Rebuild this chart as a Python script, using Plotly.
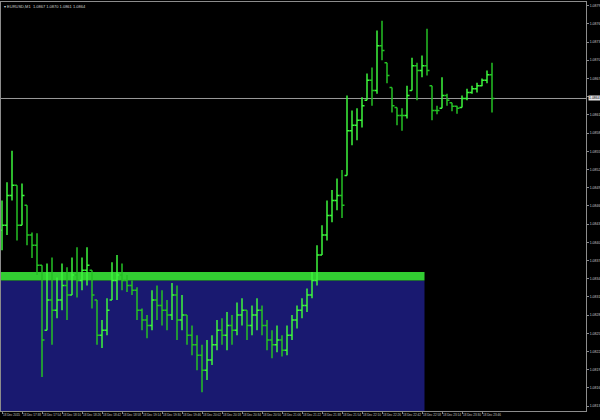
import plotly.graph_objects as go
import pandas as pd

chart_title = "EURUSD,M1  1.0867 1.0870 1.0861 1.0864"
bar_start = "2015-12-18 17:22"
bar_freq = "4min"

open_ = [1.08420, 1.08428, 1.08477, 1.08494, 1.08428, 1.08461, 1.08412, 1.08395, 1.08362, 1.08255,
         1.08305, 1.08288, 1.08305, 1.08329, 1.08313, 1.08346, 1.08337, 1.08354, 1.08354, 1.08305,
         1.08247, 1.08255, 1.08305, 1.08337, 1.08346, 1.08337, 1.08329, 1.08321, 1.08288, 1.08272,
         1.08263, 1.08305, 1.08296, 1.08288, 1.08280, 1.08313, 1.08272, 1.08280, 1.08247, 1.08231,
         1.08214, 1.08189, 1.08206, 1.08231, 1.08255, 1.08247, 1.08263, 1.08255, 1.08280, 1.08288,
         1.08263, 1.08280, 1.08288, 1.08263, 1.08239, 1.08231, 1.08239, 1.08222, 1.08247, 1.08272,
         1.08288, 1.08296, 1.08313, 1.08337, 1.08379, 1.08412, 1.08444, 1.08469, 1.08477, 1.08510,
         1.08584, 1.08593, 1.08601, 1.08634, 1.08667, 1.08650, 1.08724, 1.08696, 1.08655, 1.08622,
         1.08609, 1.08609, 1.08650, 1.08691, 1.08683, 1.08691, 1.08658, 1.08617, 1.08621, 1.08642,
         1.08630, 1.08624, 1.08622, 1.08637, 1.08647, 1.08653, 1.08658, 1.08667, 1.08676]
high = [1.08469, 1.08499, 1.08551, 1.08494, 1.08497, 1.08461, 1.08416, 1.08415, 1.08362, 1.08365,
        1.08375, 1.08342, 1.08365, 1.08359, 1.08375, 1.08392, 1.08375, 1.08392, 1.08354, 1.08305,
        1.08272, 1.08308, 1.08367, 1.08379, 1.08365, 1.08346, 1.08337, 1.08326, 1.08291, 1.08280,
        1.08321, 1.08329, 1.08321, 1.08305, 1.08333, 1.08329, 1.08313, 1.08280, 1.08263, 1.08247,
        1.08231, 1.08239, 1.08247, 1.08272, 1.08275, 1.08285, 1.08280, 1.08301, 1.08308, 1.08288,
        1.08296, 1.08308, 1.08296, 1.08272, 1.08255, 1.08263, 1.08247, 1.08263, 1.08280, 1.08296,
        1.08308, 1.08324, 1.08351, 1.08395, 1.08428, 1.08469, 1.08486, 1.08505, 1.08519, 1.08642,
        1.08617, 1.08621, 1.08639, 1.08678, 1.08688, 1.08749, 1.08765, 1.08696, 1.08655, 1.08622,
        1.08621, 1.08658, 1.08704, 1.08696, 1.08708, 1.08752, 1.08658, 1.08625, 1.08672, 1.08645,
        1.08630, 1.08625, 1.08642, 1.08653, 1.08658, 1.08663, 1.08670, 1.08683, 1.08696]
low = [1.08387, 1.08412, 1.08469, 1.08403, 1.08428, 1.08395, 1.08374, 1.08346, 1.08178, 1.08255,
       1.08231, 1.08275, 1.08288, 1.08272, 1.08313, 1.08309, 1.08321, 1.08329, 1.08291, 1.08231,
       1.08226, 1.08247, 1.08305, 1.08305, 1.08321, 1.08318, 1.08313, 1.08272, 1.08255, 1.08242,
       1.08255, 1.08272, 1.08263, 1.08255, 1.08272, 1.08239, 1.08255, 1.08231, 1.08214, 1.08189,
       1.08153, 1.08173, 1.08198, 1.08222, 1.08231, 1.08222, 1.08231, 1.08247, 1.08263, 1.08239,
       1.08247, 1.08255, 1.08247, 1.08222, 1.08209, 1.08219, 1.08212, 1.08214, 1.08239, 1.08258,
       1.08275, 1.08285, 1.08308, 1.08329, 1.08379, 1.08403, 1.08433, 1.08453, 1.08440, 1.08510,
       1.08560, 1.08568, 1.08589, 1.08634, 1.08625, 1.08645, 1.08700, 1.08662, 1.08614, 1.08593,
       1.08584, 1.08604, 1.08650, 1.08634, 1.08672, 1.08675, 1.08601, 1.08611, 1.08621, 1.08625,
       1.08616, 1.08612, 1.08622, 1.08634, 1.08645, 1.08647, 1.08657, 1.08662, 1.08614]
close = [1.08428, 1.08477, 1.08494, 1.08428, 1.08477, 1.08412, 1.08395, 1.08362, 1.08239, 1.08305,
         1.08288, 1.08305, 1.08329, 1.08313, 1.08346, 1.08337, 1.08354, 1.08362, 1.08313, 1.08247,
         1.08255, 1.08288, 1.08337, 1.08346, 1.08337, 1.08329, 1.08321, 1.08288, 1.08272, 1.08263,
         1.08305, 1.08296, 1.08288, 1.08280, 1.08313, 1.08272, 1.08280, 1.08247, 1.08231, 1.08214,
         1.08189, 1.08206, 1.08231, 1.08255, 1.08247, 1.08263, 1.08255, 1.08280, 1.08288, 1.08263,
         1.08280, 1.08288, 1.08263, 1.08239, 1.08231, 1.08239, 1.08222, 1.08247, 1.08272, 1.08288,
         1.08296, 1.08313, 1.08337, 1.08379, 1.08412, 1.08444, 1.08469, 1.08477, 1.08461, 1.08584,
         1.08593, 1.08601, 1.08625, 1.08667, 1.08650, 1.08724, 1.08716, 1.08675, 1.08625, 1.08609,
         1.08609, 1.08642, 1.08691, 1.08683, 1.08691, 1.08683, 1.08617, 1.08617, 1.08642, 1.08634,
         1.08624, 1.08621, 1.08637, 1.08647, 1.08653, 1.08658, 1.08667, 1.08676, 1.08637]

price_ticks = [1.0879, 1.0876, 1.0873, 1.0870, 1.0867, 1.0864, 1.0861, 1.0858, 1.0855, 1.0852,
               1.0849, 1.0846, 1.0843, 1.0840, 1.0837, 1.0834, 1.0831, 1.0828, 1.0825, 1.0822,
               1.0819, 1.0816, 1.0813]
# the tick at the current price is hidden under the bid label in the reference
price_tick_labels = ["1.0879", "1.0876", "1.0873", "1.0870", "1.0867", "", "1.0861", "1.0858",
                     "1.0855", "1.0852", "1.0849", "1.0846", "1.0843", "1.0840", "1.0837",
                     "1.0834", "1.0831", "1.0828", "1.0825", "1.0822", "1.0819", "1.0816",
                     "1.0813"]

time_ticks = ["2015-12-18 17:22", "2015-12-18 17:38", "2015-12-18 17:54", "2015-12-18 18:10",
              "2015-12-18 18:26", "2015-12-18 18:42", "2015-12-18 18:58", "2015-12-18 19:14",
              "2015-12-18 19:30", "2015-12-18 19:46", "2015-12-18 20:02", "2015-12-18 20:18",
              "2015-12-18 20:34", "2015-12-18 20:50", "2015-12-18 21:06", "2015-12-18 21:22",
              "2015-12-18 21:38", "2015-12-18 21:54", "2015-12-18 22:10", "2015-12-18 22:26",
              "2015-12-18 22:42", "2015-12-18 22:58", "2015-12-18 23:14", "2015-12-18 23:30",
              "2015-12-18 23:46"]
time_tick_labels = ["18 Dec 2015"] + ["18 Dec " + t[-5:] for t in time_ticks[1:]]

zone_top = 1.08351
zone_line_bottom = 1.08337
zone_end = "2015-12-18 23:00"

x_range = ["2015-12-18 17:21:12", "2015-12-19 01:09:12"]
y_range = [1.08122, 1.08796]

times = pd.date_range(bar_start, periods=len(close), freq=bar_freq)

fig = go.Figure()
fig.add_trace(go.Ohlc(
    x=times, open=open_, high=high, low=low, close=close,
    increasing=dict(line=dict(color="#3cf53c", width=1.5)),
    decreasing=dict(line=dict(color="#24c024", width=1.5)),
    tickwidth=0.5, showlegend=False, hoverinfo="skip",
))

fig.add_shape(type="rect", xref="x", yref="y", x0=x_range[0], x1=zone_end,
              y0=y_range[0], y1=zone_line_bottom, fillcolor="#191970",
              line=dict(width=0), layer="below")
fig.add_shape(type="rect", xref="x", yref="y", x0=x_range[0], x1=zone_end,
              y0=zone_line_bottom, y1=zone_top, fillcolor="#32cd32",
              line=dict(width=0), layer="below")
fig.add_shape(type="line", xref="paper", yref="y", x0=0, x1=1,
              y0=close[-1], y1=close[-1], line=dict(color="#9a9a9a", width=1),
              layer="below")

fig.add_annotation(xref="paper", yref="y", x=1, y=close[-1], xanchor="left",
                   yanchor="middle", xshift=2, text="%.4f" % close[-1],
                   showarrow=False, bgcolor="#e6e6e6", borderpad=0,
                   font=dict(size=3.5, color="#000000", family="Liberation Sans"))
fig.add_annotation(xref="paper", yref="paper", x=0, y=1, xanchor="left",
                   yanchor="top", xshift=2, yshift=-1, text="▾ " + chart_title,
                   showarrow=False, borderpad=0,
                   font=dict(size=4, color="#d0d0d0", family="Liberation Sans"))

axis_common = dict(showgrid=False, zeroline=False, showline=True, linecolor="#8c8c8c",
                   linewidth=1, mirror=True, ticks="outside", ticklen=2,
                   tickcolor="#8c8c8c", automargin=False,
                   tickfont=dict(size=3.5, color="#c8c8c8", family="Liberation Sans"))

fig.update_layout(
    template="none",
    width=600, height=420,
    margin=dict(l=1, r=14, t=2, b=9),
    paper_bgcolor="#000000", plot_bgcolor="#000000",
    showlegend=False,
    xaxis=dict(type="date", range=x_range, tickmode="array", tickvals=time_ticks,
               ticktext=time_tick_labels, ticklabelposition="outside right",
               rangeslider=dict(visible=False), **axis_common),
    yaxis=dict(range=y_range, side="right", tickmode="array", tickvals=price_ticks,
               ticktext=price_tick_labels, **axis_common),
)
fig.update_xaxes(ticklen=2, tickangle=0,
                 tickfont=dict(size=3, color="#c8c8c8", family="Liberation Sans Narrow, Liberation Sans"))

fig.write_html("out.html", config={"displayModeBar": False},
               post_script="document.body.style.margin='0';document.body.style.background='#000';")
